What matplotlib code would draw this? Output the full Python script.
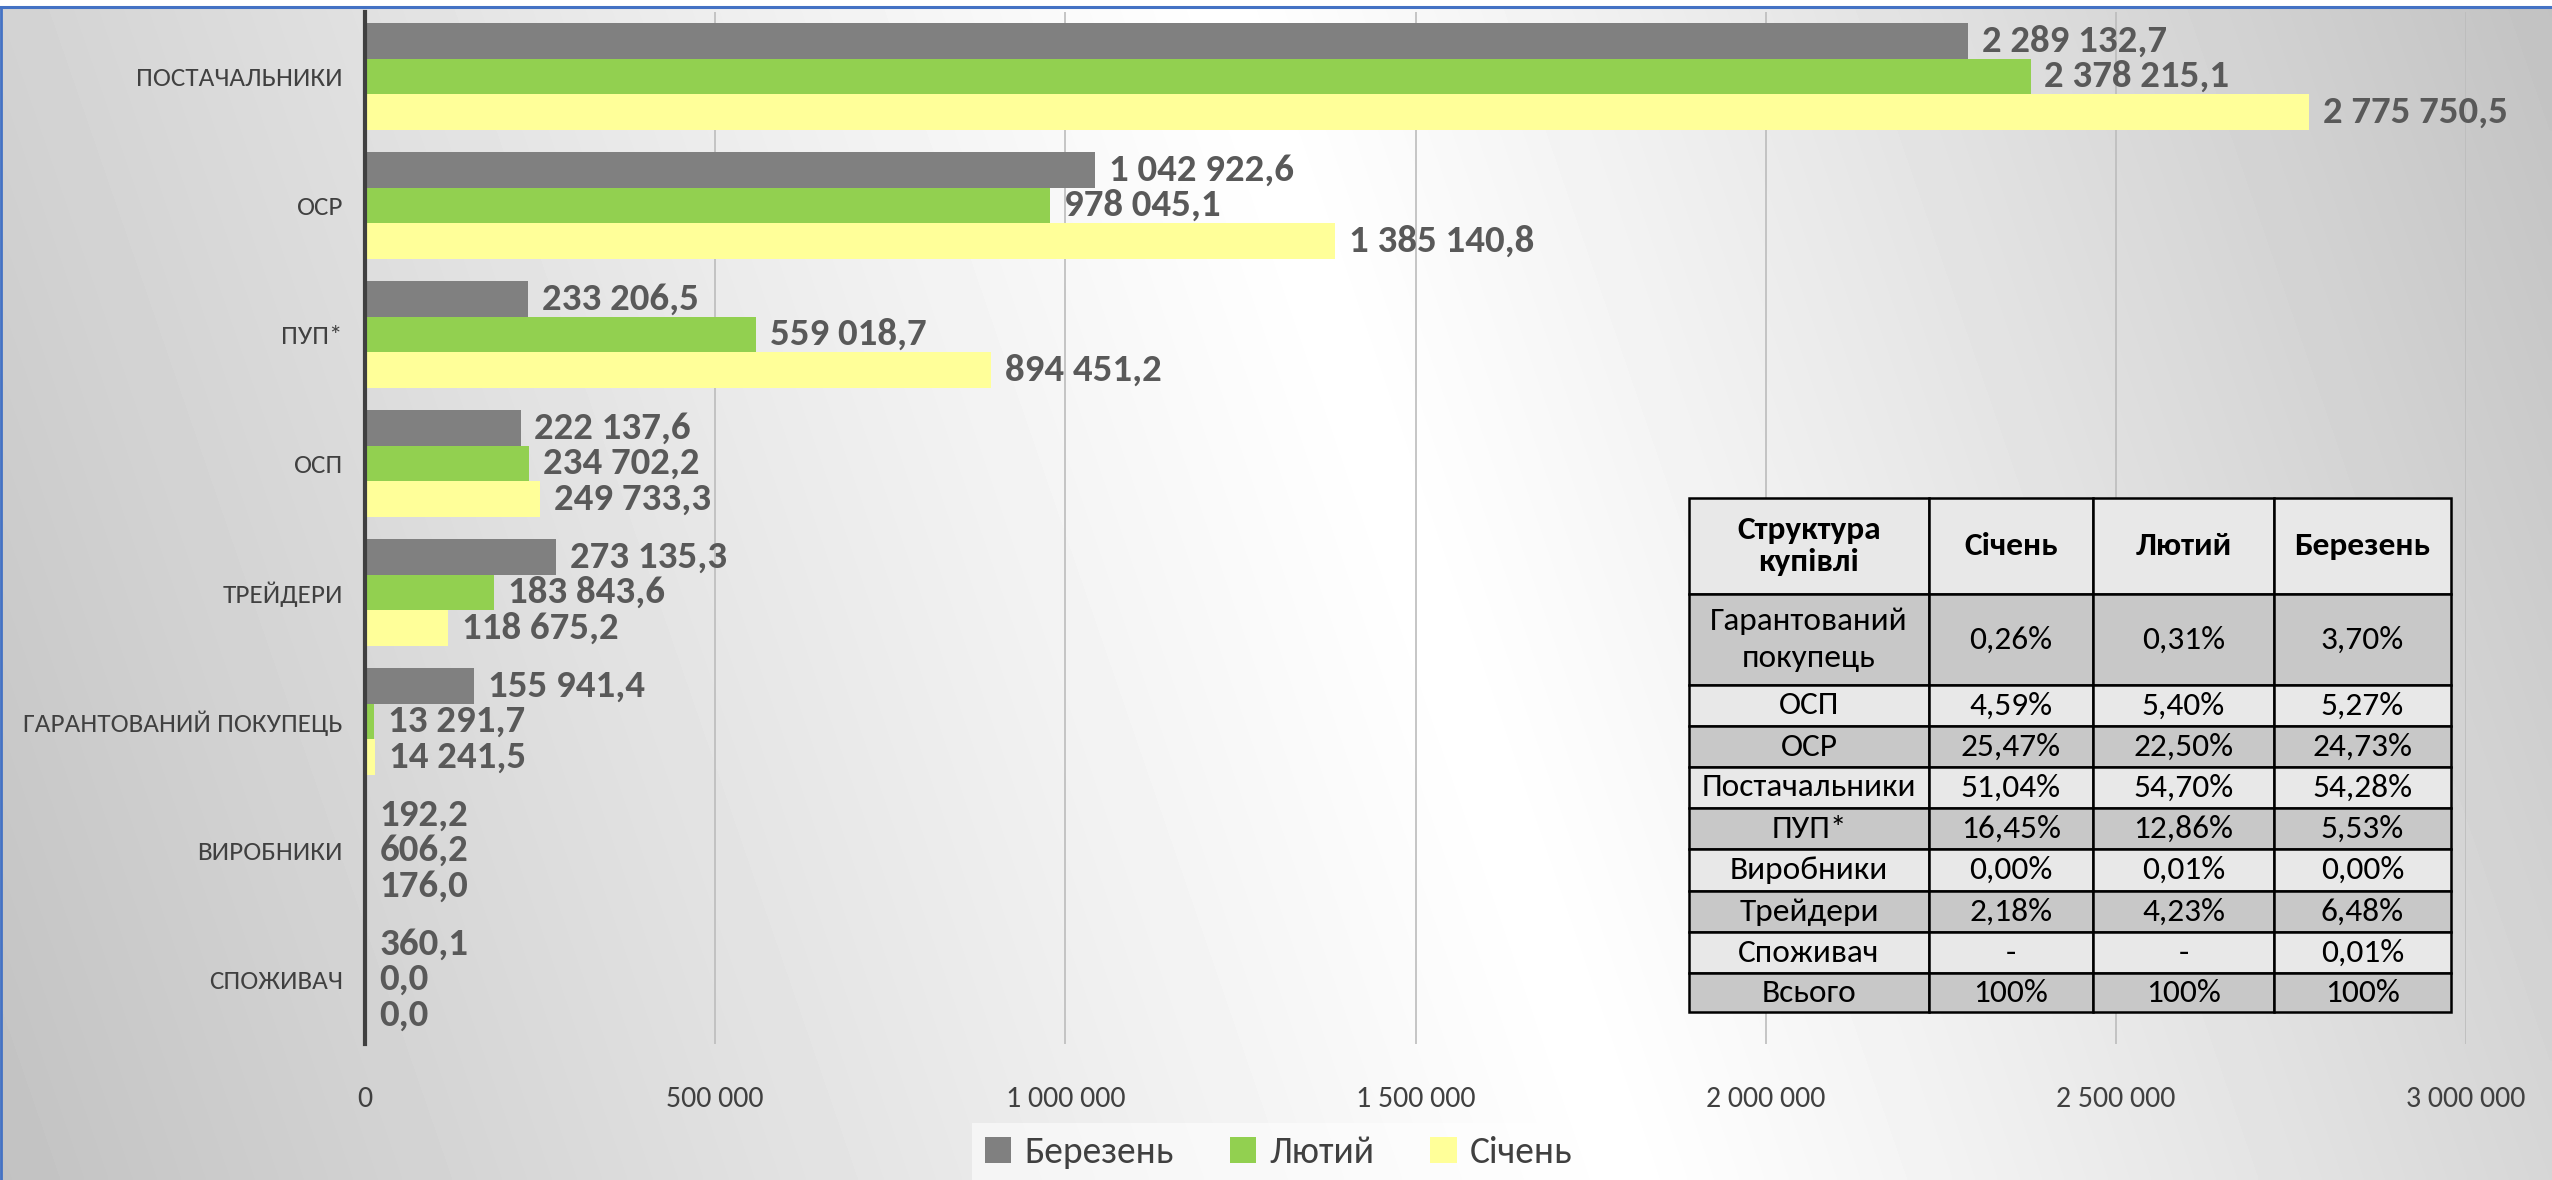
import numpy as np
import matplotlib
matplotlib.use("Agg")
import matplotlib.pyplot as plt
from matplotlib.patches import Patch
from matplotlib.lines import Line2D

plt.rcParams['font.family'] = ['Carlito', 'DejaVu Sans']

# --- chart data ---
categories = ['ПОСТАЧАЛЬНИКИ', 'ОСР', 'ПУП*', 'ОСП', 'ТРЕЙДЕРИ',
              'ГАРАНТОВАНИЙ ПОКУПЕЦЬ', 'ВИРОБНИКИ', 'СПОЖИВАЧ']
berezen = [2289132.7, 1042922.6, 233206.5, 222137.6, 273135.3, 155941.4, 192.2, 360.1]
lyutyi = [2378215.1, 978045.1, 559018.7, 234702.2, 183843.6, 13291.7, 606.2, 0.0]
sichen = [2775750.5, 1385140.8, 894451.2, 249733.3, 118675.2, 14241.5, 176.0, 0.0]
series_names = ['Березень', 'Лютий', 'Січень']
x_ticks = [0, 500000, 1000000, 1500000, 2000000, 2500000, 3000000]

# --- table data ---
table_header = ['Структура\nкупівлі', 'Січень', 'Лютий', 'Березень']
table_rows = ['Гарантований\nпокупець', 'ОСП', 'ОСР', 'Постачальники', 'ПУП*',
              'Виробники', 'Трейдери', 'Споживач', 'Всього']
share_sichen = ['0,26%', '4,59%', '25,47%', '51,04%', '16,45%', '0,00%', '2,18%', '-', '100%']
share_lyutyi = ['0,31%', '5,40%', '22,50%', '54,70%', '12,86%', '0,01%', '4,23%', '-', '100%']
share_berezen = ['3,70%', '5,27%', '24,73%', '54,28%', '5,53%', '0,00%', '6,48%', '0,01%', '100%']

colors = ['#808080', '#92d050', '#ffff99']
txt_dark = '#404040'
lbl_col = '#595959'

W, H = 2552, 1180
fig = plt.figure(figsize=(W / 100, H / 100), dpi=100)

# background gradient (gray - white - gray, diagonal)
bg = fig.add_axes([0, 0, 1, 1], zorder=-5)
yy, xx = np.mgrid[0:H:4, 0:W:4]
d = np.array([725.0, -250.0]) / np.hypot(725.0, 250.0)
t = (xx / 1.6276) * d[0] + (yy / 1.6276) * d[1]
tc = 709.0
g = np.where(t < tc, (tc - t) / (tc + 236.0), (t - tc) / (1482.0 - tc))
shade = 1.0 - 0.24 * np.clip(g, 0, 1) ** 1.1
bg.imshow(shade, cmap='gray', vmin=0, vmax=1, aspect='auto', extent=[0, 1, 0, 1],
          interpolation='bilinear')
bg.axis('off')
# white strip over the top + blue frame lines
fig.add_artist(plt.Rectangle((0, 1 - 7 / H), 1, 7 / H, transform=fig.transFigure,
                             color='white', zorder=-4))
fig.add_artist(Line2D([0, 1], [1 - 7 / H, 1 - 7 / H], transform=fig.transFigure,
                      color='#4472c4', lw=2.2))
fig.add_artist(Line2D([1 / W, 1 / W], [0, 1 - 7 / H], transform=fig.transFigure,
                      color='#4472c4', lw=2.0))

# main bar axes
left_px, right_px, top_px, bot_px = 365, 2466, 12, 1044
ax = fig.add_axes([left_px / W, 1 - bot_px / H, (right_px - left_px) / W, (bot_px - top_px) / H])
ax.set_facecolor('none')

y = np.arange(len(categories))
h = 0.275
for vals, off, col, name in zip([berezen, lyutyi, sichen], [-h, 0, h], colors, series_names):
    bars = ax.barh(y + off, vals, height=h, color=col, label=name, zorder=3)
    for b, v in zip(bars, vals):
        s = f"{v:,.1f}".replace(',', ' ').replace('.', ',')
        ax.annotate(s, (b.get_width(), b.get_y() + b.get_height() / 2),
                    xytext=(10, 0), textcoords='offset points', va='center', ha='left',
                    fontsize=28, fontweight='bold', color=lbl_col, zorder=4)

ax.set_ylim(len(categories) - 0.5, -0.5)
ax.set_xlim(0, 3000000)
ax.set_yticks(y)
ax.set_yticklabels(categories, fontsize=19.5, color=txt_dark)
ax.set_xticks(x_ticks)
ax.set_xticklabels([f"{v:,}".replace(',', ' ') for v in x_ticks], fontsize=21.5, color=txt_dark)
ax.tick_params(axis='both', length=0)
ax.tick_params(axis='x', pad=30)
ax.tick_params(axis='y', pad=16)
ax.grid(axis='x', color='#bcbcbc', lw=1.2, zorder=0)
for sp in ['top', 'right', 'bottom']:
    ax.spines[sp].set_visible(False)
ax.spines['left'].set_color('#404040')
ax.spines['left'].set_linewidth(3)
ax.spines['left'].set_zorder(5)

# legend
handles = [Patch(facecolor=c, edgecolor='none') for c in colors]
leg = fig.legend(handles, series_names, loc='center', bbox_to_anchor=(0.501, 0.023),
                 ncol=3, fontsize=27, frameon=True, fancybox=False,
                 handlelength=0.7, handleheight=0.7, handletextpad=0.35,
                 columnspacing=1.5, borderpad=0.35)
leg.get_frame().set_facecolor('white')
leg.get_frame().set_alpha(0.55)
leg.get_frame().set_edgecolor('none')
for tx in leg.get_texts():
    tx.set_color(txt_dark)

# share table
t_left, t_right, t_top, t_bot = 1689, 2451, 498, 1012
tax = fig.add_axes([t_left / W, 1 - t_bot / H, (t_right - t_left) / W, (t_bot - t_top) / H], zorder=10)
tax.axis('off')
cell_text = [table_header] + [[r, a, b, c] for r, a, b, c in
                              zip(table_rows, share_sichen, share_lyutyi, share_berezen)]
col_w = [240, 164, 181, 177]
row_h = [96, 91, 41, 41, 41, 41, 42, 41, 41, 39]
light, dark = '#e8e8e8', '#c8c8c8'
row_cols = [light] + [dark if i % 2 == 0 else light for i in range(len(table_rows))]
tbl = tax.table(cellText=cell_text, cellLoc='center', bbox=[0, 0, 1, 1],
                colWidths=[w / sum(col_w) for w in col_w])
tbl.auto_set_font_size(False)
for (r, c), cell in tbl.get_celld().items():
    cell.set_height(row_h[r] / sum(row_h))
    cell.set_facecolor(row_cols[r])
    cell.set_edgecolor('black')
    cell.set_linewidth(1.8)
    cell.get_text().set_fontsize(24)
    cell.get_text().set_color('black')
    if r == 0:
        cell.get_text().set_fontweight('bold')
        cell.get_text().set_linespacing(1.2)
    elif r == 1:
        cell.get_text().set_linespacing(1.4)

fig.savefig('out.png', dpi=100)
